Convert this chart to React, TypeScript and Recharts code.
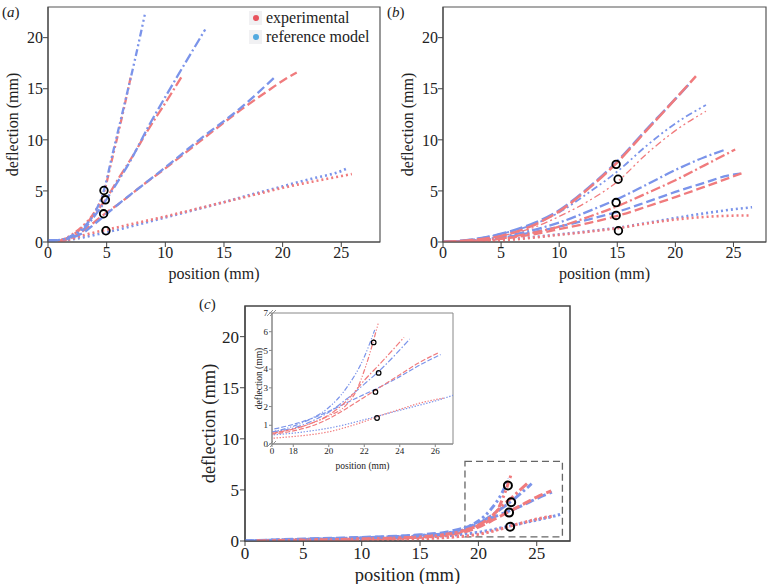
import React from 'react';
import { LineChart, Line, XAxis, YAxis, ReferenceArea } from 'recharts';

type Pt = { x: number; y: number };
const pts = (a: number[][]): Pt[] => a.map(([x, y]) => ({ x, y }));

// ---------- panel (a) ----------
const A_DOT_EXP = [[0.9,0.05],[2,0.3],[3,0.65],[4,0.95],[5,1.2],[7.5,1.85],[10,2.5],[12.5,3.2],[15,3.9],[17.5,4.6],[20,5.3],[22.5,5.9],[25,6.45],[25.9,6.65]];
const A_DOT_REF = [[0,0.1],[1,0.15],[2,0.25],[3,0.45],[4,0.7],[5,0.95],[7.5,1.65],[10,2.4],[12.5,3.15],[15,3.9],[17.5,4.7],[20,5.45],[22.5,6.2],[25,6.95],[25.4,7.15]];
const A_DASH_EXP = [[0.9,0.05],[2,0.4],[3,1.1],[4,2.0],[5,2.9],[6,3.7],[8,5.5],[10,7.2],[13,9.9],[16.4,12.9],[19,15.0],[20.3,16.0],[21.2,16.6]];
const A_DASH_REF = [[0,0.15],[1,0.2],[2,0.4],[3,0.9],[4,1.8],[5,2.75],[6,3.7],[8,5.5],[10,7.3],[13,10.1],[16.4,13.1],[19.3,16.1]];
const A_DD_EXP = [[0.9,0.05],[2,0.6],[3,1.5],[4,2.8],[5,4.3],[6,6.2],[7,8.0],[8.7,11.3],[10,13.6],[11.4,16.2]];
const A_DD_REF = [[0,0.15],[1,0.2],[2,0.5],[3,1.2],[4,2.6],[5,4.2],[6,6.0],[7,7.9],[8.7,11.6],[10,14.2],[13.4,20.8]];
const A_DDD_EXP = [[0.9,0.05],[2,0.7],[3,1.6],[4,3.0],[4.7,4.6],[5.5,8.3],[6.3,12.2],[7.1,16.4]];
const A_DDD_REF = [[0,0.15],[1,0.2],[2,0.6],[3,1.4],[4,2.9],[4.7,4.8],[5.5,8.6],[6.5,13.4],[7.5,18.3],[8.25,22.25]];
const A_CIRCLES = [[4.77,5.04],[4.89,4.13],[4.74,2.76],[4.94,1.1]];

// ---------- panel (b) ----------
const B_LDASH_EXP = [[0,0],[2.5,0.2],[5,0.6],[7.5,1.5],[10,3.0],[12.5,5.2],[15,7.8],[17.5,10.9],[20,14.0],[21.77,16.24]];
const B_LDASH_REF = [[0,0],[2.5,0.25],[5,0.8],[7.5,1.7],[10,3.1],[12.5,5.3],[15,7.9],[17.5,11.0],[20,14.0],[21.3,15.6]];
const B_DDD_EXP = [[0,0],[2.5,0.2],[5,0.6],[7.5,1.3],[10,2.5],[12.5,4.0],[15,5.9],[17.5,8.6],[20,10.9],[22.63,12.8]];
const B_DDD_REF = [[0,0],[2.5,0.25],[5,0.8],[7.5,1.6],[10,2.9],[12.5,4.8],[15,6.9],[17.5,9.4],[20,11.6],[22.63,13.4]];
const B_DD_EXP = [[0,0],[2.5,0.1],[5,0.35],[7.5,0.85],[10,1.5],[12.5,2.45],[15,3.5],[17.5,4.75],[20,6.05],[22.5,7.5],[25.15,9.06]];
const B_DD_REF = [[0,0],[2.5,0.15],[5,0.5],[7.5,1.1],[10,1.9],[12.5,3.0],[15,4.2],[17.5,5.6],[20,7.05],[22.5,8.3],[24.2,9.0]];
const B_DASH_EXP = [[0,0],[2.5,0.1],[5,0.3],[7.5,0.7],[10,1.25],[12.5,1.85],[15,2.55],[17.5,3.45],[20,4.4],[22.5,5.4],[25.9,6.8]];
const B_DASH_REF = [[0,0],[2.5,0.1],[5,0.4],[7.5,0.9],[10,1.5],[12.5,2.2],[15,2.95],[17.5,3.9],[20,4.9],[22.5,5.8],[24.5,6.5],[25.6,6.7]];
const B_DOT_EXP = [[0,0],[2.5,0.05],[5,0.15],[7.5,0.4],[10,0.7],[12.5,1.0],[15,1.35],[17.5,1.8],[20,2.2],[22.5,2.45],[25,2.58],[26.35,2.6]];
const B_DOT_REF = [[0,0],[2.5,0.05],[5,0.2],[7.5,0.45],[10,0.75],[12.5,1.05],[15,1.4],[17.5,1.85],[20,2.35],[22.5,2.8],[25,3.2],[26.6,3.4]];
const B_CIRCLES = [[14.9,7.6],[15.07,6.14],[14.9,3.86],[14.9,2.6],[15.1,1.1]];

// ---------- panel (c) + inset ----------
const C_DDD_EXP = [[1,0],[5,0.08],[10,0.2],[15,0.4],[17,0.6],[18,0.8],[19,1.1],[20,1.5],[21,2.1],[21.5,2.75],[22.1,4.2],[22.78,6.43]];
const C_DDD_REF = [[0,0],[5,0.15],[10,0.3],[15,0.55],[17,0.7],[18,0.95],[19,1.35],[20,1.95],[21,3.0],[22,4.65],[22.59,6.1]];
const C_DD_EXP = [[1,0],[5,0.1],[10,0.2],[15,0.4],[17,0.62],[18,0.8],[19,1.1],[20,1.55],[21,2.3],[22,3.4],[23,4.4],[24.24,5.7]];
const C_DD_REF = [[0,0],[5,0.15],[10,0.3],[15,0.5],[17,0.67],[18,0.85],[19,1.2],[20,1.7],[21,2.4],[22,3.2],[23,4.05],[24.56,5.61]];
const C_DASH_EXP = [[1,0],[5,0.1],[10,0.2],[15,0.38],[17,0.55],[18,0.7],[19,0.95],[20,1.35],[21,1.9],[22,2.5],[23,3.1],[24,3.7],[25,4.3],[26.24,4.9]];
const C_DASH_REF = [[0,0],[5,0.2],[10,0.35],[15,0.6],[17,0.82],[18,1.05],[19,1.35],[20,1.75],[21,2.2],[22,2.65],[23,3.1],[24,3.6],[25,4.15],[26.3,4.78]];
const C_DOT_EXP = [[1,0],[5,0.05],[10,0.12],[15,0.22],[17,0.32],[18,0.4],[19,0.5],[20,0.65],[21,0.9],[22,1.2],[23,1.55],[24,1.85],[25,2.15],[26.5,2.46]];
const C_DOT_REF = [[0,0],[5,0.1],[10,0.2],[15,0.38],[17,0.5],[18,0.58],[19,0.7],[20,0.85],[21,1.05],[22,1.3],[23,1.55],[24,1.8],[25,2.05],[26,2.3],[27,2.6]];
const C_CIRCLES = [[22.53,5.43],[22.81,3.8],[22.63,2.78],[22.72,1.39]];
const ZOOM_BOX = { x1: 18.85, x2: 27.2, y1: 0.4, y2: 7.8 };

const MAIN_X_TICKS = [0, 5, 10, 15, 20, 25];
const MAIN_Y_TICKS = [0, 5, 10, 15, 20];
const INSET_X_TICKS = [16.8, 18, 20, 22, 24, 26];
const INSET_Y_TICKS = [0, 1, 2, 3, 4, 5, 6, 7];

const RED = '#f07b7d';
const BLUE = '#7b94ea';
const SERIF = 'Liberation Serif';
const AX = '#444';

type S = { data: number[][]; color: string; dash: string; w: number };

const DASH = { dot: '2 3', dash: '9 4', dd: '10 3 2 3', ddd: '7 3 2 3 2 3', ldash: '13 4' };
const DASHC = { dot: '2.5 2.5', dash: '9 4', dd: '10 3 2.5 3', ddd: '7 3 2.5 3 2.5 3' };
const DASHI = { dot: '1.4 1.6', dash: '5 2', dd: '6 2 1.5 2', ddd: '5 1.8 1.2 1.8 1.2 1.8' };

const seriesA: S[] = [
  { data: A_DOT_REF, color: BLUE, dash: DASH.dot, w: 2.6 },
  { data: A_DOT_EXP, color: RED, dash: DASH.dot, w: 2.6 },
  { data: A_DASH_EXP, color: RED, dash: DASH.dash, w: 2.3 },
  { data: A_DASH_REF, color: BLUE, dash: DASH.dash, w: 2.3 },
  { data: A_DD_EXP, color: RED, dash: DASH.dd, w: 2.3 },
  { data: A_DD_REF, color: BLUE, dash: DASH.dd, w: 2.3 },
  { data: A_DDD_EXP, color: RED, dash: DASH.ddd, w: 2.3 },
  { data: A_DDD_REF, color: BLUE, dash: DASH.ddd, w: 2.3 },
];
const seriesB: S[] = [
  { data: B_DOT_REF, color: BLUE, dash: DASH.dot, w: 2.6 },
  { data: B_DOT_EXP, color: RED, dash: DASH.dot, w: 2.6 },
  { data: B_DASH_REF, color: BLUE, dash: DASH.dash, w: 2.3 },
  { data: B_DASH_EXP, color: RED, dash: DASH.dash, w: 2.3 },
  { data: B_DD_REF, color: BLUE, dash: DASH.dd, w: 2.3 },
  { data: B_DD_EXP, color: RED, dash: DASH.dd, w: 2.3 },
  { data: B_DDD_REF, color: BLUE, dash: DASH.ddd, w: 1.8 },
  { data: B_DDD_EXP, color: RED, dash: DASH.ddd, w: 1.3 },
  { data: B_LDASH_REF, color: BLUE, dash: DASH.ldash, w: 2.5 },
  { data: B_LDASH_EXP, color: RED, dash: DASH.ldash, w: 2.5 },
];
const mkC = (d: typeof DASHC, w: number): S[] => [
  { data: C_DOT_REF, color: BLUE, dash: d.dot, w },
  { data: C_DOT_EXP, color: RED, dash: d.dot, w },
  { data: C_DASH_REF, color: BLUE, dash: d.dash, w },
  { data: C_DASH_EXP, color: RED, dash: d.dash, w },
  { data: C_DD_REF, color: BLUE, dash: d.dd, w },
  { data: C_DD_EXP, color: RED, dash: d.dd, w },
  { data: C_DDD_REF, color: BLUE, dash: d.ddd, w },
  { data: C_DDD_EXP, color: RED, dash: d.ddd, w },
];

type PanelProps = {
  left: number; top: number; width: number; height: number;
  margin: { top: number; right: number; bottom: number; left: number };
  yw: number; xh: number;
  xDomain: number[]; yDomain: number[]; xTicks: number[]; yTicks: number[];
  xFmt?: (v: number) => string;
  series: S[]; circles: number[][]; cr: number; cw: number;
  fs: number; lfs: number; xlOff: number; ylOff: number; ts: number; tm: number;
  frame: string; frameW: number; axis: string;
  box?: boolean; bg?: string;
};

const Panel = (p: PanelProps) => (
  <div style={{ position: 'absolute', left: p.left, top: p.top, width: p.width, height: p.height, background: p.bg }}>
    <LineChart width={p.width} height={p.height} margin={p.margin} style={{ fontFamily: SERIF }}>
      <XAxis
        type="number" dataKey="x" domain={p.xDomain} ticks={p.xTicks} tickFormatter={p.xFmt}
        allowDataOverflow interval={0} height={p.xh} tickSize={p.ts} tickMargin={p.tm}
        axisLine={{ stroke: p.axis }} tickLine={{ stroke: p.axis }}
        tick={{ fill: '#222', fontSize: p.fs, fontFamily: SERIF }}
        label={{ value: 'position (mm)', position: 'insideBottom', offset: p.xlOff, style: { fontSize: p.lfs, fontFamily: SERIF, fill: '#222' } }}
      />
      <YAxis
        type="number" dataKey="y" domain={p.yDomain} ticks={p.yTicks}
        allowDataOverflow interval={0} width={p.yw} tickSize={p.ts} tickMargin={p.tm}
        axisLine={{ stroke: p.axis }} tickLine={{ stroke: p.axis }}
        tick={{ fill: '#222', fontSize: p.fs, fontFamily: SERIF }}
        label={{ value: 'deflection (mm)', angle: -90, position: 'insideLeft', offset: p.ylOff, style: { fontSize: p.lfs, fontFamily: SERIF, fill: '#222', textAnchor: 'middle' } }}
      />
      <ReferenceArea x1={p.xDomain[0]} x2={p.xDomain[1]} y1={p.yDomain[0]} y2={p.yDomain[1]} fill="none" stroke={p.frame} strokeWidth={p.frameW} ifOverflow="visible" />
      {p.box && (
        <ReferenceArea x1={ZOOM_BOX.x1} x2={ZOOM_BOX.x2} y1={ZOOM_BOX.y1} y2={ZOOM_BOX.y2} fill="none" stroke="#666" strokeWidth={1.3} strokeDasharray="7 4" ifOverflow="visible" />
      )}
      {p.series.map((s, i) => (
        <Line key={i} data={pts(s.data)} dataKey="y" type="monotone" stroke={s.color} strokeWidth={s.w}
          strokeDasharray={s.dash} dot={false} activeDot={false} isAnimationActive={false} legendType="none" />
      ))}
      <Line data={pts(p.circles)} dataKey="y" stroke="none" isAnimationActive={false} legendType="none"
        dot={{ r: p.cr, stroke: '#000', strokeWidth: p.cw, fill: 'none' }} activeDot={false} />
    </LineChart>
  </div>
);

const PanelLabel = ({ l, t, c, fs }: { l: number; t: number; c: string; fs: number }) => (
  <div style={{ position: 'absolute', left: l, top: t, fontFamily: SERIF, fontSize: fs, color: '#222', lineHeight: 1 }}>
    (<i>{c}</i>)
  </div>
);

const LegendItem = ({ color, text }: { color: string; text: string }) => (
  <div style={{ display: 'flex', alignItems: 'center', height: 19 }}>
    <div style={{ width: 13, height: 14, background: '#f1f1f3', display: 'flex', alignItems: 'center', justifyContent: 'center', marginRight: 4 }}>
      <div style={{ width: 6, height: 6, borderRadius: 3, background: color }} />
    </div>
    <span>{text}</span>
  </div>
);

export default function App() {
  return (
    <div style={{ position: 'absolute', left: 0, top: 0, width: 770, height: 584, background: '#fff', overflow: 'hidden', fontFamily: SERIF }}>
      <Panel left={0} top={0} width={385} height={285} margin={{ top: 7, right: 5, left: 0, bottom: 0 }}
        yw={48} xh={43} xDomain={[0, 28.3]} yDomain={[0, 23]} xTicks={MAIN_X_TICKS} yTicks={MAIN_Y_TICKS}
        series={seriesA} circles={A_CIRCLES} cr={3.8} cw={1.8} fs={16} lfs={16} xlOff={6} ylOff={12} ts={5} tm={0}
        frame="#555" frameW={1.2} axis={AX} />
      <Panel left={385} top={0} width={385} height={285} margin={{ top: 7, right: 4, left: 10, bottom: 0 }}
        yw={48} xh={43} xDomain={[0, 27.8]} yDomain={[0, 23]} xTicks={MAIN_X_TICKS} yTicks={MAIN_Y_TICKS}
        series={seriesB} circles={B_CIRCLES} cr={3.8} cw={1.8} fs={16} lfs={16} xlOff={6} ylOff={12} ts={5} tm={0}
        frame="#555" frameW={1.2} axis={AX} />
      <Panel left={190} top={290} width={385} height={294} margin={{ top: 16, right: 5, left: 5, bottom: 0 }}
        yw={50} xh={43} xDomain={[0, 27.85]} yDomain={[0, 23]} xTicks={MAIN_X_TICKS} yTicks={MAIN_Y_TICKS}
        series={mkC(DASHC, 3)} circles={C_CIRCLES} cr={4} cw={2} fs={17} lfs={18.5} xlOff={3} ylOff={13} ts={5} tm={1}
        frame="#444" frameW={1.5} axis={AX} box />
      <Panel left={248} top={309} width={210} height={166} margin={{ top: 4, right: 5, left: 4, bottom: 0 }}
        yw={20} xh={31} xDomain={[16.8, 27]} yDomain={[0, 7]} xTicks={INSET_X_TICKS} yTicks={INSET_Y_TICKS}
        xFmt={(v: number) => (v < 17 ? '0' : String(v))}
        series={mkC(DASHI, 1.2)} circles={C_CIRCLES} cr={2.3} cw={1.2} fs={9} lfs={9.5} xlOff={6} ylOff={7} ts={3} tm={1}
        frame="#888" frameW={1} axis="#888" bg="#fff" />
      <svg style={{ position: 'absolute', left: 266, top: 308 }} width={12} height={142}>
        <line x1={1} y1={8} x2={7} y2={2} stroke="#888" strokeWidth={0.9} />
        <line x1={4} y1={8} x2={10} y2={2} stroke="#888" strokeWidth={0.9} />
        <line x1={1} y1={139} x2={7} y2={133} stroke="#888" strokeWidth={0.9} />
        <line x1={4} y1={139} x2={10} y2={133} stroke="#888" strokeWidth={0.9} />
      </svg>
      <PanelLabel l={2} t={5} c="a" fs={15} />
      <PanelLabel l={387} t={5} c="b" fs={15} />
      <PanelLabel l={199} t={297} c="c" fs={15} />
      <div style={{ position: 'absolute', left: 249, top: 8, fontFamily: SERIF, fontSize: 16, color: '#222' }}>
        <LegendItem color="#e8545e" text="experimental" />
        <LegendItem color="#52a9df" text="reference model" />
      </div>
    </div>
  );
}
